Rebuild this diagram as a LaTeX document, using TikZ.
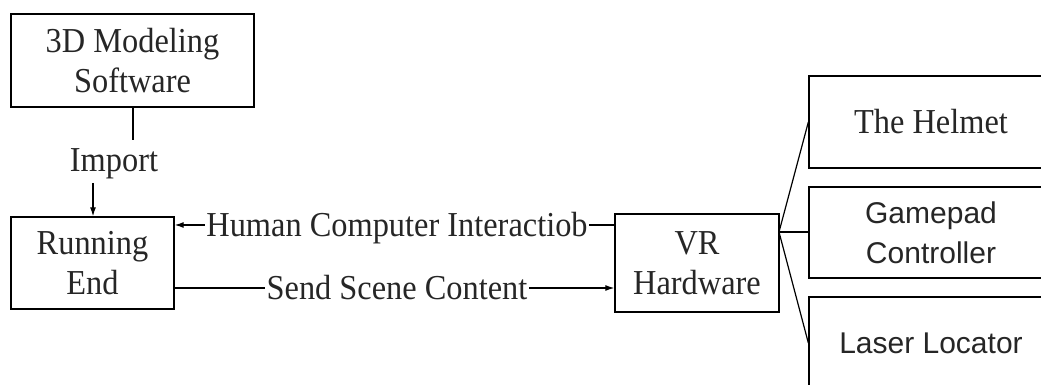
\documentclass[tikz,border=0pt]{standalone}
\usepackage{fontspec}
\setmainfont{Liberation Serif}
\newfontfamily\sansf{Liberation Sans}
\usetikzlibrary{arrows.meta}
\newcommand\sq[1]{\scalebox{0.925}[1]{#1}}
\begin{document}
\begin{tikzpicture}[x=1pt,y=1pt,
  box/.style={draw, line width=1.3pt, inner sep=0pt, align=center,
    font=\fontsize{35}{40}\selectfont, text=black!85},
  sbox/.style={box, font=\sansf\fontsize{30}{40}\selectfont},
  lbl/.style={inner sep=1.5pt, font=\fontsize{35}{40}\selectfont, text=black!85},
  conn/.style={line width=1.2pt},
  arr/.style={conn, -{Latex[length=9pt,width=6pt]}}]
\useasboundingbox (0,0) rectangle (1041,385);
\node[box, minimum width=243, minimum height=93] (sw) at (132.5,324.5) {\sq{3D Modeling}\\\sq{Software}};
\node[box, minimum width=163, minimum height=92] (run) at (92.5,122) {\sq{Running}\\\sq{End}};
\node[box, minimum width=164, minimum height=98] (vr) at (697,122) {\sq{VR}\\\sq{Hardware}};
\node[box, minimum width=244, minimum height=92] (helm) at (931,263) {\sq{The Helmet}};
\node[sbox, minimum width=244, minimum height=91] (pad) at (931,152.5) {Gamepad\\Controller};
\node[sbox, minimum width=244, minimum height=92] (laser) at (931,42) {Laser Locator};
% import
\coordinate (swend) at (133,245);
\node[lbl, anchor=base] (imp) at (114,213) {\sq{Import}};
\coordinate (impstart) at (93,202);
\draw[conn] (sw.south -| swend) -- (swend);
\draw[arr] (impstart) -- (run.north -| impstart);
% HCI
\node[lbl, anchor=base] (hci) at (397,148) {\sq{Human Computer Interactiob}};
\coordinate (hciy) at (0,160);
\draw[conn] (vr.west |- hciy) -- (hci.east |- hciy);
\draw[arr] (hci.west |- hciy) -- (run.east |- hciy);
% Send
\node[lbl, anchor=base] (send) at (397,85) {\sq{Send Scene Content}};
\coordinate (sendy) at (0,97);
\draw[conn] (run.east |- sendy) -- (send.west |- sendy);
\draw[arr] (send.east |- sendy) -- (vr.west |- sendy);
% fan out
\coordinate (vrout) at (779,153);
\draw[conn] (vrout) -- (helm.west);
\draw[conn] (vrout) -- (pad.west |- vrout);
\draw[conn] (vrout) -- (laser.west);
\end{tikzpicture}
\end{document}
